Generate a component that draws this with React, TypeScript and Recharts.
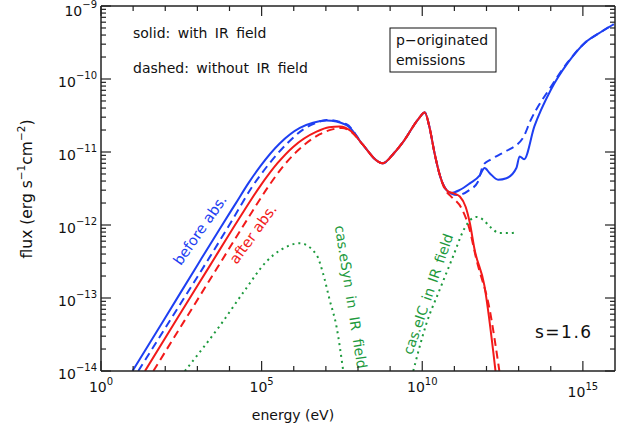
import { LineChart, Line, XAxis, YAxis, Customized } from 'recharts'

const BLUE = '#1e3ff2'
const RED = '#f21a1a'
const GREEN = '#1d9a3d'
const AXIS = '#222'
const FONT = 'DejaVu Sans'

// values as log10(energy / eV) and log10(flux / erg s^-1 cm^-2)
const beforeIrLogE = [0.98, 2.0, 3.0, 3.7, 4.2, 4.6, 4.95, 5.57, 6.19, 6.6, 7.02, 7.64, 8.15, 8.62, 8.77, 9.13, 9.44, 9.86, 10.08, 10.22, 10.38, 10.53, 10.69, 10.9, 11.17, 11.48, 11.79, 11.94, 12.1, 12.36, 12.62, 12.93, 13.03, 13.17, 13.49, 14.0, 14.53, 15.05, 15.55, 15.96]
const beforeIrLogF = [-14, -13.27, -12.55, -12.05, -11.7, -11.42, -11.2, -10.88, -10.67, -10.6, -10.57, -10.63, -10.9, -11.13, -11.155, -11.01, -10.84, -10.56, -10.46, -10.65, -11.01, -11.29, -11.48, -11.56, -11.52, -11.43, -11.32, -11.22, -11.29, -11.38, -11.36, -11.22, -11.06, -11.1, -10.65, -10.15, -9.78, -9.51, -9.36, -9.25]

const beforeNoIrLogE = [1.16, 2.2, 3.2, 4.09, 4.7, 5.2, 5.8, 6.3, 6.7, 7.02, 7.64, 8.15, 8.62, 8.77, 9.13, 9.44, 9.86, 10.08, 10.22, 10.38, 10.53, 10.69, 10.9, 11.1, 11.47, 11.73, 11.9, 12.14, 12.56, 13.13, 13.38, 14.0, 14.53, 15.05, 15.55, 15.96]
const beforeNoIrLogF = [-14, -13.27, -12.57, -11.93, -11.48, -11.18, -10.88, -10.69, -10.6, -10.56, -10.62, -10.9, -11.13, -11.155, -11.01, -10.84, -10.56, -10.46, -10.65, -11.01, -11.29, -11.48, -11.57, -11.59, -11.52, -11.41, -11.18, -11.1, -11.0, -10.81, -10.56, -10.11, -9.77, -9.51, -9.36, -9.25]

const afterIrLogE = [1.37, 2.4, 3.4, 4.3, 4.95, 5.5, 5.98, 6.71, 7.1, 7.43, 7.8, 8.15, 8.62, 8.77, 9.13, 9.44, 9.86, 10.08, 10.22, 10.38, 10.53, 10.69, 10.8, 11.0, 11.17, 11.35, 11.48, 11.63, 11.93, 12.28]
const afterIrLogF = [-14, -13.26, -12.55, -11.91, -11.47, -11.15, -10.93, -10.72, -10.66, -10.65, -10.72, -10.9, -11.13, -11.155, -11.01, -10.84, -10.56, -10.46, -10.65, -11.01, -11.29, -11.48, -11.54, -11.57, -11.61, -11.75, -11.97, -12.34, -12.82, -14]

const afterNoIrLogE = [1.63, 2.6, 3.6, 4.53, 5.2, 5.7, 6.1, 6.8, 7.2, 7.5, 7.8, 8.15, 8.62, 8.77, 9.13, 9.44, 9.86, 10.08, 10.22, 10.38, 10.53, 10.69, 10.9, 11.22, 11.46, 11.69, 12.09, 12.4]
const afterNoIrLogF = [-14, -13.31, -12.6, -11.94, -11.48, -11.18, -10.99, -10.76, -10.69, -10.67, -10.73, -10.9, -11.13, -11.155, -11.01, -10.84, -10.56, -10.46, -10.65, -11.01, -11.29, -11.5, -11.61, -11.77, -12.04, -12.48, -13.14, -14]

const eSynLogE = [2.61, 3.7, 4.5, 5.15, 5.6, 6.19, 6.71, 6.91, 7.12, 7.33, 7.54]
const eSynLogF = [-14, -13.38, -12.88, -12.5, -12.34, -12.25, -12.41, -12.66, -13.03, -13.39, -14]

const eICLogE = [9.72, 10.13, 10.54, 10.96, 11.31, 11.5, 11.69, 11.9, 12.1, 12.41, 12.7, 12.93]
const eICLogF = [-14, -13.35, -12.89, -12.43, -12.05, -11.93, -11.89, -11.93, -12.02, -12.11, -12.11, -12.1]

// axis ticks
const xTickPowers = [0, 1, 2, 3, 4, 5, 6, 7, 8, 9, 10, 11, 12, 13, 14, 15]
const xLabelPowers = [0, 5, 10, 15]
const yTickPowers = [-14, -13, -12, -11, -10, -9]
const minorSteps = [1, 2, 3, 4, 5, 6, 7, 8, 9]

const toPoints = (logE: number[], logF: number[]) =>
  logE.map((e, i) => ({ x: 10 ** e, y: 10 ** logF[i] }))

const xTicks = xTickPowers.map((p) => 10 ** p)
const yTicks = yTickPowers.flatMap((p) => (p === -9 ? [10 ** p] : minorSteps.map((k) => k * 10 ** p)))

const powerOf = (v: number) => {
  const l = Math.log10(v)
  return Math.abs(l - Math.round(l)) < 1e-6 ? Math.round(l) : null
}

const exp = (p: number) => (p < 0 ? `\u2212${-p}` : `${p}`)

const BottomTick = (props: any) => {
  const { x, y, payload } = props
  const p = powerOf(payload.value)
  const labelled = p !== null && xLabelPowers.includes(p)
  return (
    <g>
      <line x1={x} x2={x} y1={y} y2={y - (labelled ? 10 : 5)} stroke={AXIS} strokeWidth={1.2} />
      {labelled && (
        <text x={x} y={y + (p === 15 ? 26 : 21)} textAnchor="middle" fontFamily={FONT} fontSize={14} fill="#111">
          10<tspan dy={-7} fontSize={10}>{exp(p as number)}</tspan>
        </text>
      )}
    </g>
  )
}

const TopTick = (props: any) => {
  const { x, y, payload } = props
  const p = powerOf(payload.value)
  const major = p !== null && xLabelPowers.includes(p)
  return <line x1={x} x2={x} y1={y} y2={y + (major ? 10 : 5)} stroke={AXIS} strokeWidth={1.2} />
}

const LeftTick = (props: any) => {
  const { x, y, payload } = props
  const p = powerOf(payload.value)
  return (
    <g>
      <line x1={x} x2={x + (p !== null ? 10 : 5)} y1={y} y2={y} stroke={AXIS} strokeWidth={1.2} />
      {p !== null && (
        <text x={x - 4} y={y + (p === -9 ? 10 : 8)} textAnchor="end" fontFamily={FONT} fontSize={14} fill="#111">
          10<tspan dy={-8} fontSize={10}>{exp(p)}</tspan>
        </text>
      )}
    </g>
  )
}

const RightTick = (props: any) => {
  const { x, y, payload } = props
  const p = powerOf(payload.value)
  return <line x1={x} x2={x - (p !== null ? 10 : 5)} y1={y} y2={y} stroke={AXIS} strokeWidth={1.2} />
}

const Annotations = () => (
  <g fontFamily={FONT}>
    <text x={133} y={38} fontSize={14} wordSpacing={3} fill="#111">solid: with IR field</text>
    <text x={133} y={73} fontSize={14} wordSpacing={3} fill="#111">dashed: without IR field</text>
    <rect x={390} y={28} width={106} height={44} fill="none" stroke="#111" strokeWidth={1} />
    <text x={396} y={45} fontSize={14} fill="#111">p{'\u2212'}originated</text>
    <text x={396} y={65} fontSize={14} fill="#111">emissions</text>
    <text x={535} y={338} fontSize={17} letterSpacing={1.5} fill="#111">s=1.6</text>
    <text transform="translate(200,230) rotate(-55)" textAnchor="middle" dominantBaseline="central" fontSize={14.5} fill={BLUE}>before abs.</text>
    <text transform="translate(253,234) rotate(-54)" textAnchor="middle" dominantBaseline="central" fontSize={14.5} fill={RED}>after abs.</text>
    <text transform="translate(351,297) rotate(81)" textAnchor="middle" dominantBaseline="central" fontSize={14} wordSpacing={4} fill={GREEN}>cas.eSyn in IR field</text>
    <text transform="translate(428,294) rotate(-71)" textAnchor="middle" dominantBaseline="central" fontSize={14} wordSpacing={2} fill={GREEN}>cas.eIC in IR field</text>
    <text x={293} y={420} textAnchor="middle" fontSize={14} fill="#111">energy (eV)</text>
    <text transform="translate(32,189) rotate(-90)" textAnchor="middle" fontSize={15.5} fill="#111">
      flux (erg s<tspan dy={-7} fontSize={10.5}>{'\u2212'}1</tspan><tspan dy={7}>cm</tspan><tspan dy={-7} fontSize={10.5}>{'\u2212'}2</tspan><tspan dy={7}>)</tspan>
    </text>
  </g>
)

const series = [
  { key: 'beforeIr', data: toPoints(beforeIrLogE, beforeIrLogF), color: BLUE, dash: undefined },
  { key: 'beforeNoIr', data: toPoints(beforeNoIrLogE, beforeNoIrLogF), color: BLUE, dash: '8 5' },
  { key: 'afterIr', data: toPoints(afterIrLogE, afterIrLogF), color: RED, dash: undefined },
  { key: 'afterNoIr', data: toPoints(afterNoIrLogE, afterNoIrLogF), color: RED, dash: '8 5' },
  { key: 'eSyn', data: toPoints(eSynLogE, eSynLogF), color: GREEN, dash: '2 4' },
  { key: 'eIC', data: toPoints(eICLogE, eICLogF), color: GREEN, dash: '2 4' },
]

export default function App() {
  return (
    <div style={{ position: 'absolute', left: 0, top: 0, background: '#fff' }}>
      <LineChart width={638} height={438} margin={{ top: 0, right: 0, bottom: 0, left: 0 }}>
        <XAxis
          xAxisId="bottom"
          dataKey="x"
          type="number"
          scale="log"
          domain={[1, 1e16]}
          allowDataOverflow
          ticks={xTicks}
          interval={0}
          height={67}
          tickSize={0}
          tickMargin={0}
          tickLine={false}
          tick={BottomTick}
          axisLine={{ stroke: AXIS, strokeWidth: 1.5 }}
        />
        <XAxis
          xAxisId="top"
          orientation="top"
          dataKey="x"
          type="number"
          scale="log"
          domain={[1, 1e16]}
          allowDataOverflow
          ticks={xTicks}
          interval={0}
          height={6}
          tickSize={0}
          tickMargin={0}
          tickLine={false}
          tick={TopTick}
          axisLine={{ stroke: AXIS, strokeWidth: 1.5 }}
        />
        <YAxis
          yAxisId="left"
          dataKey="y"
          type="number"
          scale="log"
          domain={[1e-14, 1e-9]}
          allowDataOverflow
          ticks={yTicks}
          interval={0}
          width={101}
          tickSize={0}
          tickMargin={0}
          tickLine={false}
          tick={LeftTick}
          axisLine={{ stroke: AXIS, strokeWidth: 1.5 }}
        />
        <YAxis
          yAxisId="right"
          orientation="right"
          dataKey="y"
          type="number"
          scale="log"
          domain={[1e-14, 1e-9]}
          allowDataOverflow
          ticks={yTicks}
          interval={0}
          width={23}
          tickSize={0}
          tickMargin={0}
          tickLine={false}
          tick={RightTick}
          axisLine={{ stroke: AXIS, strokeWidth: 1.5 }}
        />
        {series.map((s) => (
          <Line
            key={s.key}
            xAxisId="bottom"
            yAxisId="left"
            data={s.data}
            dataKey="y"
            type="monotone"
            stroke={s.color}
            strokeWidth={2}
            strokeDasharray={s.dash}
            dot={false}
            activeDot={false}
            isAnimationActive={false}
          />
        ))}
        <Customized component={Annotations} />
      </LineChart>
    </div>
  )
}
